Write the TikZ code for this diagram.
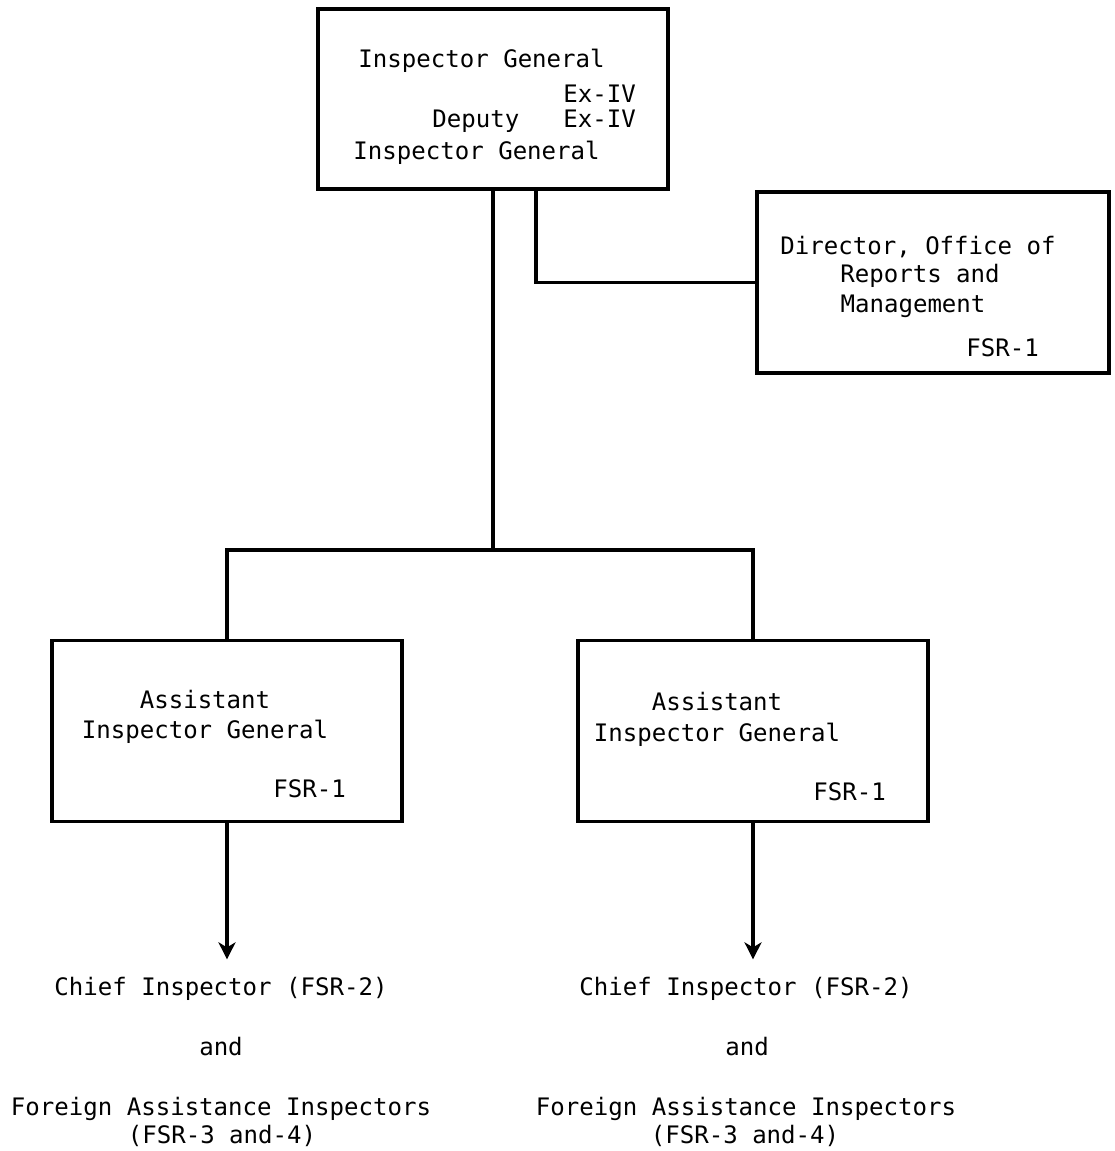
\documentclass[tikz,border=0pt]{standalone}
\usepackage{fontspec}
\usepackage{tikz}
\usetikzlibrary{arrows.meta,positioning}
\newfontfamily\orgfont{DejaVu Sans Mono}
\tikzstyle{box} = [draw, line width=2.1pt, inner sep=0pt, minimum width=7cm, minimum height=3.62cm]
\tikzstyle{txt} = [inner sep=0pt, font=\orgfont\fontsize{13.7}{16}\selectfont]
\tikzstyle{wire} = [line width=2.1pt]
\tikzstyle{arr} = [line width=2.1pt, -{Stealth[length=0.34cm,width=0.34cm,inset=0.1cm]}]

\begin{document}
\begin{tikzpicture}[x=0.02cm,y=-0.02cm]
\useasboundingbox (0,0) rectangle (1114,1151);
\node[box, minimum height=3.6cm] (ig) at (493,99) {};
\node[box, minimum width=7.04cm] (dor) at (933,282.5) {};
\node[box] (aig1) at (227,731) {};
\node[box] (aig2) at (753,731) {};

\node[txt, anchor=base west] (igname) at (358,68) {Inspector General};
\node[txt, anchor=base west] (igrank) at (563,103) {Ex-IV};
\node[txt, anchor=base west] (dpname) at (432,128) {Deputy};
\node[txt, anchor=base west] (dprank) at (563,128) {Ex-IV};
\node[txt, anchor=base west] (dptitle) at (353,160) {Inspector General};

\node[txt, anchor=base] (dor1) at (918,255) {Director, Office of};
\node[txt, anchor=base] (dor2) at (920,283) {Reports and};
\node[txt, anchor=base] (dor3) at (913,313) {Management};
\node[txt, anchor=base west] (dorrank) at (966,357) {FSR-1};

\node[txt, anchor=base] (aiga1) at (205,708) {Assistant};
\node[txt, anchor=base] (aigb1) at (205,738) {Inspector General};
\node[txt, anchor=base west] (aigr1) at (273,797) {FSR-1};
\node[txt, anchor=base] (aiga2) at (717,710) {Assistant};
\node[txt, anchor=base] (aigb2) at (717,741) {Inspector General};
\node[txt, anchor=base west] (aigr2) at (813,800) {FSR-1};

\node[txt, anchor=base] (ci1) at (221,995) {Chief Inspector (FSR-2)};
\node[txt, anchor=base] (and1) at (221,1055) {and};
\node[txt, anchor=base] (fai1) at (221,1115) {Foreign Assistance Inspectors};
\node[txt, anchor=base] (fair1) at (222,1143) {(FSR-3 and-4)};
\node[txt, anchor=base] (ci2) at (746,995) {Chief Inspector (FSR-2)};
\node[txt, anchor=base] (and2) at (747,1055) {and};
\node[txt, anchor=base] (fai2) at (746,1115) {Foreign Assistance Inspectors};
\node[txt, anchor=base] (fair2) at (745,1143) {(FSR-3 and-4)};

\coordinate (busl) at (227,550);
\coordinate (busr) at (753,550);
\draw[wire] (ig.south) -- (ig.south |- busl);
\draw[wire] ([xshift=0.86cm]ig.south) |- (dor.west);
\draw[wire] (aig1.north) -- (busl) -- (busr) -- (aig2.north);
\draw[arr, shorten >=0.34cm] (aig1.south) -- (aig1.south |- ci1.north);
\draw[arr, shorten >=0.34cm] (aig2.south) -- (aig2.south |- ci2.north);
\end{tikzpicture}
\end{document}
